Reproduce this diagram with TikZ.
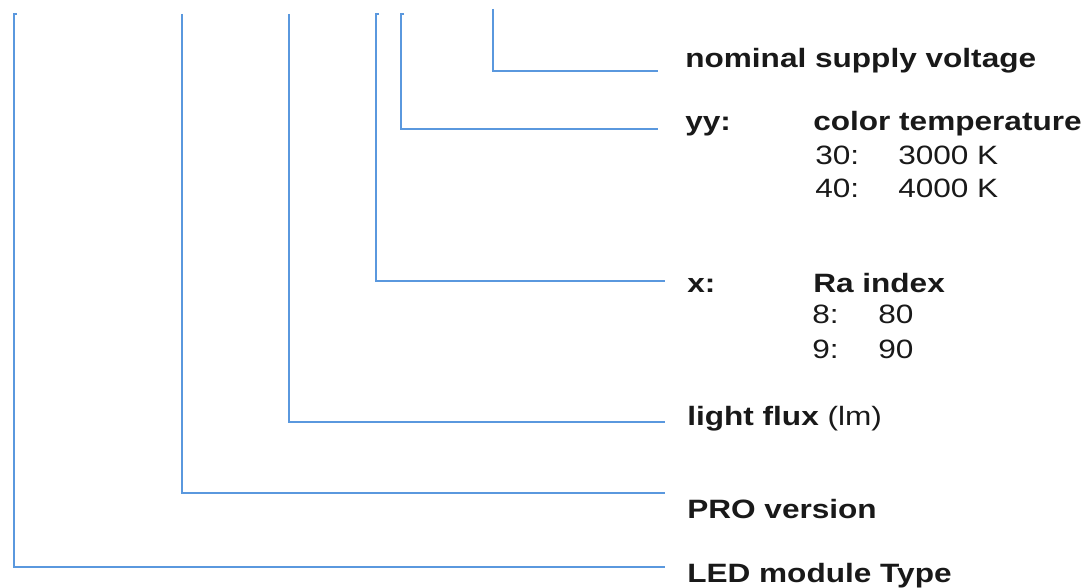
\documentclass[tikz,border=0pt]{standalone}
\usepackage{fontspec}
\setmainfont{Liberation Sans}[FakeStretch=1.19]
\usetikzlibrary{positioning}
\definecolor{leadblue}{RGB}{90,152,222}
\tikzset{
    leader/.style = {draw=leadblue, line width=1.5pt},
    field/.style = {anchor=base west, inner sep=0pt, text=black!90,
                        font=\fontsize{19.9}{24}\selectfont\bfseries},
    entry/.style = {anchor=base west, inner sep=0pt, text=black!90,
                        font=\fontsize{19.9}{24}\selectfont}
}

\begin{document}
\begin{tikzpicture}[x=0.75pt, y=-0.75pt]
    \useasboundingbox (0,0) rectangle (1084,588);
    % tops of the leaders
    \coordinate (tled) at (14,14);
    \coordinate (tpro) at (182,14);
    \coordinate (tflux) at (289,14);
    \coordinate (tra) at (376,14);
    \coordinate (tcct) at (401,14);
    \coordinate (tvolt) at (493,9);
    % ends of the leaders
    \coordinate (evolt) at (658,71);
    \coordinate (ecct) at (658,129);
    \coordinate (era) at (665,281);
    \coordinate (eflux) at (665,422);
    \coordinate (epro) at (665,493);
    \coordinate (eled) at (665,567);
    % texts
    \node (volt) [field] at (685,68) {nominal supply voltage};
    \node (yy) [field] at (685,131) {yy:};
    \node (cct) [field] at (813,131) {color temperature};
    \node (c30) [entry] at (815,165) {30:};
    \node (k30) [entry] at (898,165) {3000 K};
    \node (c40) [entry] at (815,197) {40:};
    \node (k40) [entry] at (898,197) {4000 K};
    \node (xx) [field] at (687,292) {x:};
    \node (ra) [field] at (813,292) {Ra index};
    \node (r8) [entry] at (812,323) {8:};
    \node (v8) [entry] at (878,323) {80};
    \node (r9) [entry] at (812,358) {9:};
    \node (v9) [entry] at (878,358) {90};
    \node (flux) [field] at (687,425) {light flux \mdseries(lm)};
    \node (pro) [field] at (687,518) {PRO version};
    \node (led) [field] at (687,582) {LED module Type};
    % leaders
    \draw [leader] (tvolt) |- (evolt);
    \draw [leader] (tcct) ++(3,0) -- (tcct) |- (ecct);
    \draw [leader] (tra) ++(3,0) -- (tra) |- (era);
    \draw [leader] (tflux) |- (eflux);
    \draw [leader] (tpro) |- (epro);
    \draw [leader] (tled) ++(3,0) -- (tled) |- (eled);
\end{tikzpicture}
\end{document}
